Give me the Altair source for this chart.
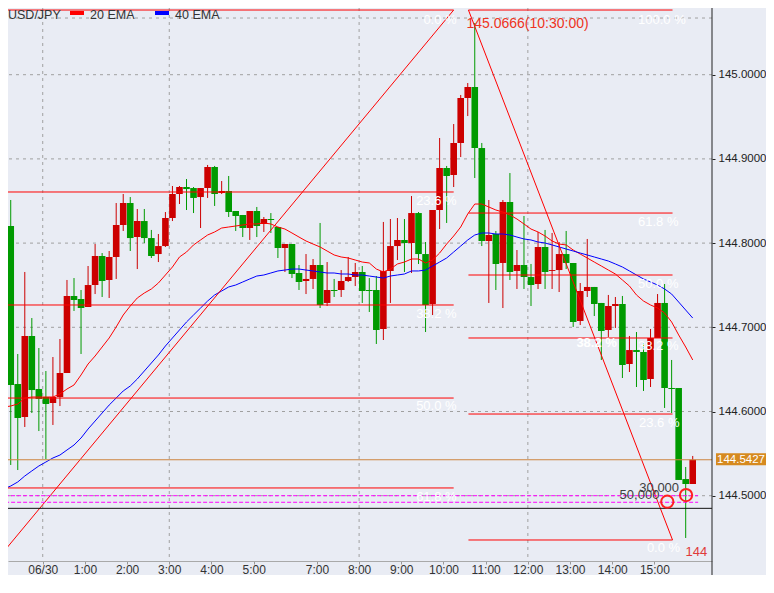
import json
import altair as alt
import pandas as pd

# ---------------- data ----------------
idx = list(range(99))  # 10-minute candles
open_ = [144.8916, 144.8203, 144.6327, 144.5935, 144.6897, 144.6267, 144.6172, 144.6101, 144.6172, 144.6457,
         144.7372, 144.7336, 144.7241, 144.7502, 144.7847, 144.7562, 144.7835, 144.8215, 144.8476, 144.8072,
         144.8262, 144.8060, 144.7870, 144.7965, 144.8298, 144.8583, 144.8666, 144.8654, 144.8547, 144.8654,
         144.8904, 144.8595, 144.8619, 144.8381, 144.8334, 144.8179, 144.8381, 144.8227, 144.8286, 144.8191,
         144.7942, 144.7989, 144.7645, 144.7550, 144.7574, 144.7740, 144.7289, 144.7443, 144.7443, 144.7550,
         144.7597, 144.7657, 144.7443, 144.7443, 144.6980, 144.7669, 144.7965, 144.8037, 144.8001, 144.8357,
         144.7870, 144.7277, 144.8393, 144.8892, 144.8809, 144.9189, 144.9723, 144.9854, 144.9129, 144.8025,
         144.8108, 144.7764, 144.8488, 144.7669, 144.7740, 144.7597, 144.7514, 144.7954, 144.7669, 144.7680,
         144.7870, 144.7764, 144.7075, 144.7431, 144.7479, 144.7289, 144.6968, 144.7253, 144.7277, 144.6564,
         144.6730, 144.6707, 144.6386, 144.6873, 144.7289, 144.6279, 144.6279, 144.5198, 144.5139]
high = [144.8987, 144.8512, 144.6683, 144.7657, 144.7110, 144.6754, 144.6481, 144.6647, 144.6861, 144.7562,
        144.7585, 144.7443, 144.7728, 144.7989, 144.7882, 144.7906, 144.8476, 144.8583, 144.8547, 144.8405,
        144.8405, 144.8156, 144.8108, 144.8369, 144.8678, 144.8678, 144.8761, 144.8666, 144.8654, 144.8928,
        144.8916, 144.8737, 144.8797, 144.8381, 144.8334, 144.8381, 144.8429, 144.8310, 144.8357, 144.8191,
        144.7989, 144.7989, 144.7740, 144.7870, 144.7811, 144.8239, 144.7775, 144.7574, 144.7680, 144.7835,
        144.7764, 144.7728, 144.7585, 144.7609, 144.8251, 144.8286, 144.8298, 144.8286, 144.8559, 144.8369,
        144.8013, 144.8393, 144.9248, 144.8916, 144.9414, 144.9759, 144.9901, 145.0614, 144.9189, 144.8512,
        144.8144, 144.8512, 144.8832, 144.7918, 144.8322, 144.7752, 144.8132, 144.8156, 144.8120, 144.8013,
        144.8144, 144.7764, 144.7526, 144.8049, 144.7479, 144.7289, 144.7384, 144.7360, 144.7372, 144.6897,
        144.6944, 144.6814, 144.6980, 144.7395, 144.7514, 144.6612, 144.6279, 144.5341, 144.5472]
low = [144.8132, 144.5365, 144.5305, 144.5816, 144.5982, 144.5768, 144.5436, 144.5840, 144.6065, 144.6457,
       144.7194, 144.6683, 144.7241, 144.7395, 144.7360, 144.7348, 144.7574, 144.8144, 144.7906, 144.7692,
       144.8001, 144.7823, 144.7775, 144.7954, 144.8262, 144.8464, 144.8393, 144.8357, 144.8179, 144.8536,
       144.8441, 144.8583, 144.8310, 144.8144, 144.8072, 144.8037, 144.8072, 144.8132, 144.8120, 144.7823,
       144.7657, 144.7585, 144.7443, 144.7395, 144.7455, 144.7229, 144.7253, 144.7360, 144.7360, 144.7538,
       144.7490, 144.7289, 144.7182, 144.6802, 144.6849, 144.7289, 144.7799, 144.7657, 144.7645, 144.7752,
       144.6944, 144.7146, 144.8167, 144.8239, 144.8666, 144.9022, 144.9509, 144.8773, 144.7965, 144.7289,
       144.7443, 144.7229, 144.7562, 144.7455, 144.7455, 144.7253, 144.7455, 144.7455, 144.7455, 144.7419,
       144.7692, 144.7004, 144.7027, 144.7360, 144.7134, 144.6612, 144.6885, 144.6992, 144.6398, 144.6469,
       144.6291, 144.6244, 144.6291, 144.6873, 144.6042, 144.5982, 144.5187, 144.4498, 144.5139]
close = [144.8203, 144.6315, 144.5923, 144.6897, 144.6255, 144.6149, 144.6089, 144.6172, 144.6457, 144.7372,
         144.7324, 144.7229, 144.7502, 144.7847, 144.7550, 144.7835, 144.8215, 144.8476, 144.8060, 144.8262,
         144.8060, 144.7847, 144.7965, 144.8298, 144.8583, 144.8666, 144.8642, 144.8536, 144.8654, 144.8904,
         144.8583, 144.8619, 144.8369, 144.8322, 144.8179, 144.8381, 144.8203, 144.8286, 144.8274, 144.7942,
         144.7989, 144.7633, 144.7538, 144.7574, 144.7740, 144.7265, 144.7443, 144.7431, 144.7550, 144.7597,
         144.7657, 144.7431, 144.7431, 144.6968, 144.7669, 144.7965, 144.8037, 144.8001, 144.8357, 144.7870,
         144.7265, 144.8393, 144.8892, 144.8797, 144.9189, 144.9723, 144.9854, 144.9129, 144.8025, 144.8096,
         144.7752, 144.8488, 144.7657, 144.7740, 144.7597, 144.7502, 144.7954, 144.7657, 144.7680, 144.7870,
         144.7764, 144.7063, 144.7431, 144.7479, 144.7277, 144.6956, 144.7253, 144.7277, 144.6552, 144.6730,
         144.6707, 144.6374, 144.6873, 144.7289, 144.6279, 144.6267, 144.5187, 144.5139, 144.5427]
ema20 = [144.6053, 144.6065, 144.6089, 144.6160, 144.6172, 144.6172, 144.6172, 144.6172, 144.6208, 144.6267,
         144.6315, 144.6434, 144.6564, 144.6659, 144.6766, 144.6873, 144.7004, 144.7146, 144.7253, 144.7348,
         144.7407, 144.7455, 144.7526, 144.7621, 144.7716, 144.7835, 144.7894, 144.7978, 144.8037, 144.8096,
         144.8132, 144.8179, 144.8191, 144.8203, 144.8215, 144.8227, 144.8227, 144.8239, 144.8227, 144.8191,
         144.8167, 144.8120, 144.8072, 144.8025, 144.7989, 144.7954, 144.7906, 144.7859, 144.7835, 144.7823,
         144.7799, 144.7775, 144.7764, 144.7692, 144.7657, 144.7692, 144.7752, 144.7775, 144.7811, 144.7811,
         144.7764, 144.7799, 144.7882, 144.7989, 144.8084, 144.8191, 144.8346, 144.8464, 144.8464, 144.8429,
         144.8393, 144.8369, 144.8334, 144.8286, 144.8227, 144.8167, 144.8132, 144.8084, 144.8025, 144.7989,
         144.7978, 144.7918, 144.7870, 144.7823, 144.7775, 144.7728, 144.7680, 144.7633, 144.7562, 144.7490,
         144.7384, 144.7312, 144.7265, 144.7229, 144.7170, 144.7063, 144.6909, 144.6766, 144.6612]
ema40 = [144.5080, 144.5115, 144.5163, 144.5234, 144.5294, 144.5353, 144.5400, 144.5448, 144.5483, 144.5543,
         144.5602, 144.5685, 144.5792, 144.5887, 144.5982, 144.6077, 144.6160, 144.6244, 144.6303, 144.6386,
         144.6481, 144.6576, 144.6671, 144.6778, 144.6873, 144.6968, 144.7063, 144.7146, 144.7229, 144.7312,
         144.7384, 144.7431, 144.7479, 144.7502, 144.7538, 144.7574, 144.7609, 144.7621, 144.7645, 144.7669,
         144.7680, 144.7692, 144.7692, 144.7680, 144.7669, 144.7657, 144.7645, 144.7645, 144.7633, 144.7633,
         144.7621, 144.7621, 144.7609, 144.7597, 144.7585, 144.7609, 144.7621, 144.7633, 144.7669, 144.7669,
         144.7680, 144.7728, 144.7775, 144.7823, 144.7894, 144.7965, 144.8037, 144.8096, 144.8120, 144.8120,
         144.8108, 144.8108, 144.8096, 144.8072, 144.8049, 144.8037, 144.8013, 144.8001, 144.7978, 144.7954,
         144.7930, 144.7906, 144.7882, 144.7859, 144.7835, 144.7811, 144.7787, 144.7752, 144.7716, 144.7669,
         144.7621, 144.7574, 144.7538, 144.7502, 144.7455, 144.7395, 144.7300, 144.7205, 144.7110]

tick_idx = [6, 12, 18, 24, 30, 36, 45, 51, 57, 63, 69, 75, 81, 87, 93]
tick_lab = ["06/30", "1:00", "2:00", "3:00", "4:00", "5:00", "7:00", "8:00", "9:00",
            "10:00", "11:00", "12:00", "13:00", "14:00", "15:00"]
vgrid_idx = [6, 24, 51, 75]
hgrid_prices = [144.5, 144.6, 144.7, 144.8, 144.9, 145.0, 145.0673]
axis_prices = [144.5, 144.6, 144.7, 144.8, 144.9, 145.0]

# Fibonacci retracement (left, rising leg)
fibL_levels = [145.0768, 144.8607, 144.7265, 144.6160, 144.5092]
fibL_labels = ["0.0 %", "23.6 %", "38.2 %", "50.0 %", "61.8 %"]
fibL_label_prices = [145.0649, 144.8500, 144.7158, 144.6065, 144.4985]
fibL_from, fibL_to = 0.2, 64.0
fibL_diag = [-27.1, 144.1612, 64.0, 145.0768]
# Fibonacci retracement (right, falling leg)
fibR_levels = [145.0768, 144.8357, 144.7621, 144.6873, 144.5970, 144.4474]
fibR_labels = ["100.0 %", "61.8 %", "50.0 %", "38.2 %", "23.6 %", "0.0 %"]
fibR_label_prices = [145.0649, 144.8245, 144.7514, 144.6778, 144.5864, 144.4379]
fibR_label_x = [90.22, 90.22, 90.22, 90.22, 90.36, 91.48]
fibR_from, fibR_to = 66.1, 95.13
fibR_diag = [66.1, 145.0768, 95.13, 144.4474]
swing_text = "145.0666(10:30:00)"

last_price = 144.5427
order_prices = [144.5000, 144.4922]
black_line = 144.4850
order_texts = ["30,000", "50,000"]
order_text_x = [93.23, 90.43]
order_text_p = [144.5097, 144.5014]
circle_x = [97.05, 94.38]
circle_p = [144.5008, 144.4929]

# ---------------- chart ----------------
X0, X1 = 1.3225, 100.031
Y0, Y1 = 144.42246, 145.0792
XS = alt.Scale(domain=[X0, X1], nice=False, zero=False)
YS = alt.Scale(domain=[Y0, Y1], nice=False, zero=False)
BG = "#e9ecf4"
RED = "#cc0000"
GREEN = "#009a00"
FONT = "Liberation Sans"


def X(f):
    return alt.X(f, type="quantitative", scale=XS, axis=None)


def Y(f):
    return alt.Y(f, type="quantitative", scale=YS, axis=None)


candles = pd.DataFrame({"i": idx, "open": open_, "high": high, "low": low, "close": close})
emas = pd.DataFrame({"i": idx, "ema20": ema20, "ema40": ema40})
color = alt.condition("datum.close >= datum.open", alt.value(RED), alt.value(GREEN))

label_expr = f"{json.dumps(tick_lab)}[indexof({json.dumps(tick_idx)}, round(datum.value + 0.45))]"
xaxis = alt.Axis(values=[t - 0.45 for t in tick_idx], labelExpr=label_expr, title=None, grid=False,
                 domainColor="#a9a9a9", tickColor="#999999", tickSize=3, labelPadding=0,
                 labelFontSize=12, labelColor="#333333", labelFont=FONT, labelFlush=False,
                 labelOverlap=False)
yaxis = alt.Axis(orient="right", values=axis_prices, format=".4f", title=None, grid=False,
                 domain=False, tickColor="#222222", tickSize=3, labelPadding=3, labelFontSize=11.5,
                 labelColor="#222222", labelFont=FONT, labelFlush=False, labelOverlap=False)

hgrid = alt.Chart(pd.DataFrame({"p": hgrid_prices})).mark_rule(
    color="#a0a0a0", strokeDash=[3, 4], strokeWidth=1).encode(y=Y("p"))
vgrid = alt.Chart(pd.DataFrame({"t": [v - 0.45 for v in vgrid_idx]})).mark_rule(
    color="#a0a0a0", strokeDash=[3, 4], strokeWidth=1).encode(x=X("t"))

wicks = alt.Chart(candles).mark_rule(clip=True, strokeWidth=1).encode(
    x=X("i"), y=Y("low"), y2=alt.Y2("high"), color=color)
bodies = alt.Chart(candles).mark_bar(clip=True, size=6.6, strokeWidth=0).encode(
    x=alt.X("i:Q", scale=XS, axis=xaxis),
    y=alt.Y("open:Q", scale=YS, axis=yaxis),
    y2=alt.Y2("close"), color=color)

l20 = alt.Chart(emas).mark_line(clip=True, color="#ff0000", strokeWidth=1).encode(x=X("i"), y=Y("ema20"))
l40 = alt.Chart(emas).mark_line(clip=True, color="#0000ff", strokeWidth=1).encode(x=X("i"), y=Y("ema40"))

fib_rules = pd.DataFrame({
    "x0": [fibL_from] * len(fibL_levels) + [fibR_from] * len(fibR_levels),
    "x1": [fibL_to] * len(fibL_levels) + [fibR_to] * len(fibR_levels),
    "p": fibL_levels + fibR_levels})
fibs = alt.Chart(fib_rules).mark_rule(clip=True, color="#ff0000", strokeWidth=1).encode(
    x=X("x0"), x2=alt.X2("x1"), y=Y("p"))
diag_df = pd.DataFrame({"x0": [fibL_diag[0], fibR_diag[0]], "p0": [fibL_diag[1], fibR_diag[1]],
                        "x1": [fibL_diag[2], fibR_diag[2]], "p1": [fibL_diag[3], fibR_diag[3]]})
diags = alt.Chart(diag_df).mark_rule(clip=True, color="#ff0000", strokeWidth=1).encode(
    x=X("x0"), y=Y("p0"), x2=alt.X2("x1"), y2=alt.Y2("p1"))

fibL_txt = alt.Chart(pd.DataFrame({"x": [fibL_to + 0.42] * len(fibL_labels), "p": fibL_label_prices,
                                   "t": fibL_labels})).mark_text(
    align="right", baseline="middle", color="#ffffff", fontSize=13, font=FONT, clip=True).encode(
    x=X("x"), y=Y("p"), text="t:N")
fibR_txt = alt.Chart(pd.DataFrame({"x": fibR_label_x, "p": fibR_label_prices, "t": fibR_labels})).mark_text(
    align="left", baseline="middle", color="#ffffff", fontSize=13, font=FONT, clip=True).encode(
    x=X("x"), y=Y("p"), text="t:N")
garbled = alt.Chart(pd.DataFrame({"x": [84.33], "p": [144.6814], "t": ["38.2 %"]})).mark_text(
    align="center", baseline="middle", color="#ffffff", fontSize=13, fontWeight="bold", font=FONT).encode(
    x=X("x"), y=Y("p"), text="t:N")

top_txt = alt.Chart(pd.DataFrame({"x": [65.82], "p": [145.0602], "t": [swing_text]})).mark_text(
    align="left", baseline="middle", fontSize=14, font=FONT, color="#ee3322").encode(
    x=X("x"), y=Y("p"), text="t:N")

orange = alt.Chart(pd.DataFrame({"p": [last_price]})).mark_rule(color="#cd853f", strokeWidth=1).encode(y=Y("p"))
magenta = alt.Chart(pd.DataFrame({"x0": [0.2, 0.2], "x1": [98.77, 98.77], "p": order_prices})).mark_rule(
    clip=True, color="#ff00ff", strokeWidth=1, strokeDash=[4, 2]).encode(x=X("x0"), x2=alt.X2("x1"), y=Y("p"))
black = alt.Chart(pd.DataFrame({"p": [black_line]})).mark_rule(color="#111111", strokeWidth=1).encode(y=Y("p"))

otext = alt.Chart(pd.DataFrame({"x": order_text_x, "p": order_text_p, "t": order_texts})).mark_text(
    align="center", baseline="middle", color="#404040", fontSize=13, font=FONT).encode(
    x=X("x"), y=Y("p"), text="t:N")
circles = alt.Chart(pd.DataFrame({"x": circle_x, "p": circle_p})).mark_point(
    shape="circle", filled=False, size=150, strokeWidth=2, color="#ff2020", opacity=1).encode(
    x=X("x"), y=Y("p"))
red144 = alt.Chart(pd.DataFrame({"x": [98.51], "p": [144.4326], "t": ["144"]})).mark_text(
    align="center", baseline="middle", color="#e03a3a", fontSize=13, font=FONT).encode(
    x=X("x"), y=Y("p"), text="t:N")

# price tag on the right axis
tag_df = pd.DataFrame({"p": [last_price], "top": [144.5504], "bot": [144.5362],
                       "t": [f"{last_price:.4f}"]})
tag_box = alt.Chart(tag_df).mark_rect(color="#d68a1f").encode(
    x=alt.value(708), x2=alt.value(758), y=Y("top"), y2=alt.Y2("bot"))
tag_txt = alt.Chart(tag_df).mark_text(align="center", baseline="middle", color="#ffffff",
                                      fontSize=11.5, font=FONT).encode(
    x=alt.value(733), y=Y("p"), text="t:N")

# right frame line
frame_v = alt.Chart(pd.DataFrame({"a": [0]})).mark_rule(color="#222222", strokeWidth=1).encode(
    x=alt.value(704), y=alt.value(0), y2=alt.value(568))

# legend
leg_names = ["USD/JPY", "20 EMA", "40 EMA"]
leg_txt = alt.Chart(pd.DataFrame({"t": leg_names, "xp": [0, 82, 167]})).mark_text(
    align="left", baseline="middle", color="#333333", fontSize=12.5, font=FONT).encode(
    x=alt.X("xp:Q", scale=None, axis=None), y=alt.value(7), text="t:N")
leg_sw = alt.Chart(pd.DataFrame({"x0": [62, 147], "x1": [76, 161], "c": ["20 EMA", "40 EMA"]})).mark_rect().encode(
    x=alt.X("x0:Q", scale=None, axis=None), x2="x1:Q", y=alt.value(3), y2=alt.value(7),
    color=alt.Color("c:N", scale=alt.Scale(domain=["20 EMA", "40 EMA"], range=["#ff0000", "#0000ff"]),
                    legend=None))

chart = alt.layer(
    hgrid, vgrid, wicks, bodies, l20, l40, fibs, diags, orange, magenta, black,
    fibL_txt, fibR_txt, garbled, top_txt, otext, circles, red144, tag_box, tag_txt,
    frame_v, leg_sw, leg_txt
).resolve_scale(color="independent").resolve_axis(x="independent", y="independent").properties(
    width=704, height=553,
    autosize=alt.AutoSizeParams(type="none"),
    padding={"left": 0, "top": 0, "right": 54, "bottom": 14},
    background=BG,
).configure_view(strokeWidth=0)

chart.save("out.html", embed_options={"renderer": "svg", "actions": False})
